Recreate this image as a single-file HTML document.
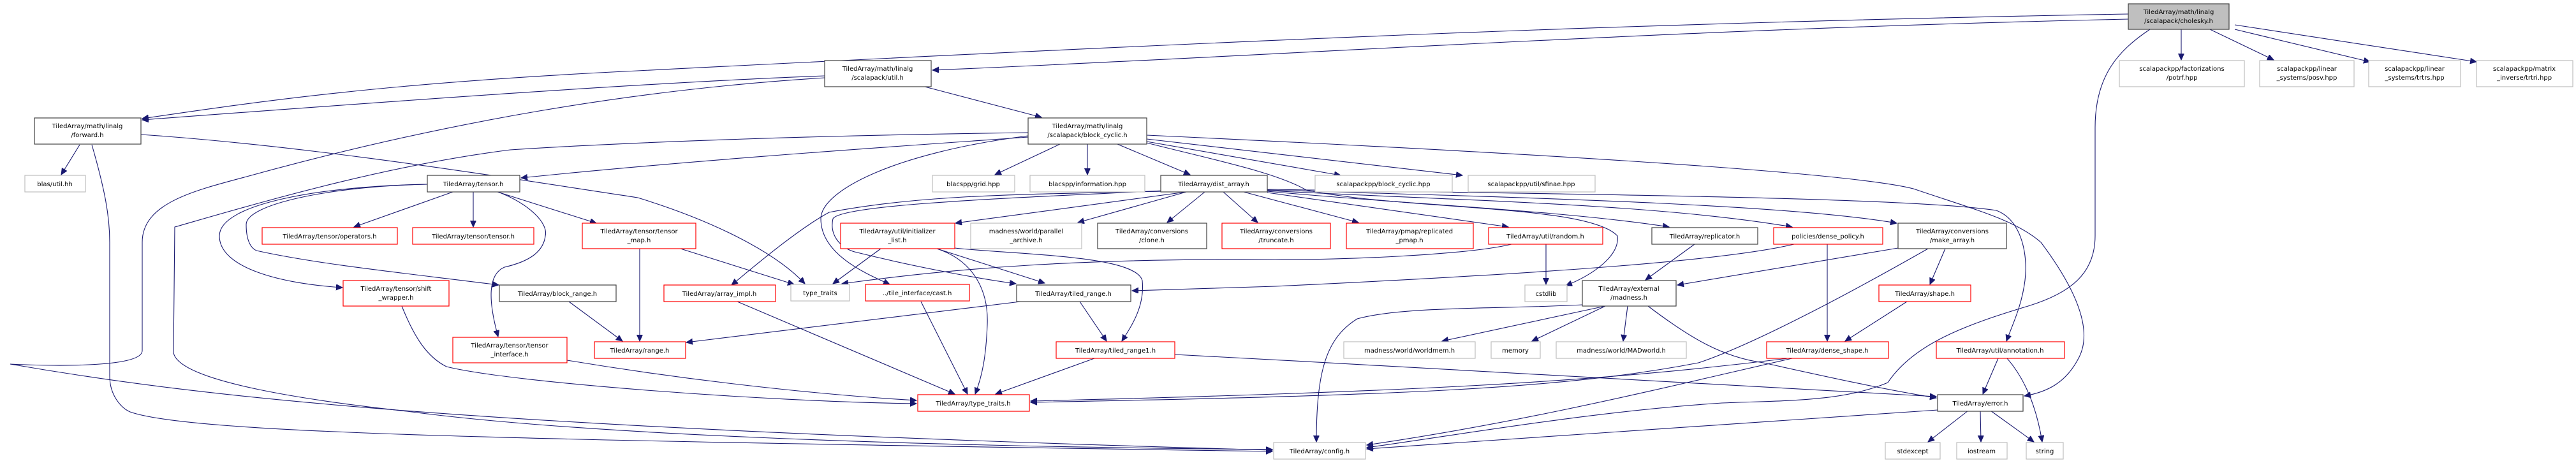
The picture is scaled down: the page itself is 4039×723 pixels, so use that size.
<!DOCTYPE html>
<html><head><meta charset="utf-8">
<style>
html,body{margin:0;padding:0;background:#fff;}
svg{display:block;}
text{font-family:"DejaVu Sans","Liberation Sans",sans-serif;font-size:10px;fill:#000;text-anchor:middle;}
.e{fill:none;stroke:#191970;stroke-width:1.1;marker-end:url(#a);}
.n{fill:#fff;stroke-width:1.2;}
.k{stroke:#404040;} .g{stroke:#bfbfbf;} .r{stroke:#ff0000;}
</style></head><body>
<svg width="4039" height="723" viewBox="0 0 4039 723" xmlns="http://www.w3.org/2000/svg">
<defs>
<marker id="a" markerUnits="userSpaceOnUse" markerWidth="12" markerHeight="10" refX="10" refY="4.5" orient="auto">
<path d="M0,0 L10,4.5 L0,9 Z" fill="#191970" stroke="#191970"/>
</marker>
</defs>

<!-- EDGES -->
<!-- cholesky -->
<path class="e" d="M3337,22 C2600,35 2000,60 1000,111 C600,130 400,160 223,186"/>
<path class="e" d="M3337,30 C2600,46 2000,88 1462,110"/>
<path class="e" d="M3420,46 L3420,94"/>
<path class="e" d="M3465,46 L3565,94"/>
<path class="e" d="M3504,46 L3716,97"/>
<path class="e" d="M3504,39 L3883,97"/>
<path class="e" d="M3371,46 C3320,80 3285,120 3285,200 L3285,370 C3285,430 3245,460 3180,480 C3080,510 3000,540 2960,600 C2890,630 2800,628 2700,632 C2500,645 2300,680 2143,702"/>
<!-- util.h -->
<path class="e" d="M1293,119 C1000,130 600,160 223,188"/>
<path class="e" d="M1293,122 C1000,140 700,190 383,278 C300,300 223,320 223,380 L223,550 C223,575 100,575 16,571 C300,620 700,670 1995,706"/>
<path class="e" d="M1450,136 L1633,184"/>
<!-- forward -->
<path class="e" d="M125,227 L96,274"/>
<path class="e" d="M144,227 C165,300 172,340 172,380 L172,590 C172,620 190,640 204,646 C300,680 800,690 1995,708"/>
<path class="e" d="M221,211 C500,230 800,280 1000,310 C1130,350 1220,400 1262,445"/>
<!-- block_cyclic -->
<path class="e" d="M1612,215 C1400,230 1100,250 817,279"/>
<path class="e" d="M1612,208 C1300,212 1000,222 800,235 C600,260 400,320 274,356 L272,553 C280,600 500,630 638,645 C900,680 1400,700 1995,705"/>
<path class="e" d="M1612,213 C1400,240 1287,300 1287,343 C1287,400 1360,430 1395,446"/>
<path class="e" d="M1662,226 L1560,274"/>
<path class="e" d="M1705,226 L1705,274"/>
<path class="e" d="M1752,226 L1866,274"/>
<path class="e" d="M1798,222 L2102,275"/>
<path class="e" d="M1798,218 L2293,275"/>
<path class="e" d="M1798,212 C2400,240 2900,270 3000,296 C3100,330 3160,345 3200,380 C3260,460 3280,520 3260,560 C3240,600 3210,615 3174,621"/>
<path class="e" d="M1798,224 C1900,250 2000,270 2048,298 C2200,330 2490,320 2536,370 C2540,400 2500,430 2455,448"/>
<!-- tensor.h -->
<path class="e" d="M710,301 L555,356"/>
<path class="e" d="M742,301 L742,356"/>
<path class="e" d="M780,301 L935,350"/>
<path class="e" d="M781,301 C830,320 860,350 855,370 C852,395 830,410 791,419 C765,430 765,470 781,528"/>
<path class="e" d="M670,289 C500,292 344,320 344,370 C344,420 440,445 537,451"/>
<path class="e" d="M670,289 C520,292 386,320 386,352 C386,380 395,390 402,393 C500,415 650,430 782,447"/>
<!-- tensor_map -->
<path class="e" d="M1067,390 L1245,446"/>
<path class="e" d="M1003,390 L1003,535"/>
<path class="e" d="M892,473 L976,535"/>
<!-- dist_array -->
<path class="e" d="M1860,301 L1498,350"/>
<path class="e" d="M1860,301 L1690,349"/>
<path class="e" d="M1889,301 L1830,349"/>
<path class="e" d="M1918,301 L1972,349"/>
<path class="e" d="M1950,301 L2130,349"/>
<path class="e" d="M1987,302 L2365,356"/>
<path class="e" d="M1987,300 C2200,320 2450,330 2617,356"/>
<path class="e" d="M1987,299 C2300,315 2600,320 2810,356"/>
<path class="e" d="M1987,298 C2400,310 2800,320 2974,350"/>
<path class="e" d="M1987,297 C2500,305 3000,310 3130,330 C3170,345 3180,400 3175,440 C3170,480 3155,510 3146,535"/>
<path class="e" d="M1823,300 C1600,305 1446,305 1300,333 C1250,360 1180,420 1147,447"/>
<path class="e" d="M1823,299 C1600,310 1320,320 1306,343 C1300,370 1319,389 1340,395 C1420,415 1520,435 1593,445"/>
<!-- init list -->
<path class="e" d="M1381,390 L1306,445"/>
<path class="e" d="M1469,390 L1638,444"/>
<path class="e" d="M1497,389 C1600,400 1780,400 1791,440 C1795,480 1775,510 1759,535"/>
<path class="e" d="M1469,390 C1530,410 1550,460 1548,509 C1546,560 1540,590 1529,618"/>
<!-- row 3 to type_traits.h -->
<path class="e" d="M1156,473 L1497,618"/>
<path class="e" d="M1444,473 L1517,618"/>
<path class="e" d="M1716,562 L1561,618"/>
<path class="e" d="M889,565 C1100,600 1300,620 1437,628"/>
<path class="e" d="M630,480 C650,530 670,560 700,575 C800,600 1200,630 1437,633"/>
<path class="e" d="M1600,473 L1076,537"/>
<path class="e" d="M1693,473 L1735,535"/>
<path class="e" d="M1842,556 C2300,580 2800,610 3036,622"/>
<!-- random -->
<path class="e" d="M2424,383 L2424,446"/>
<path class="e" d="M2370,383 C2300,400 2100,408 2000,407 C1700,405 1500,420 1320,445"/>
<!-- replicator / make_array / policy -->
<path class="e" d="M2657,383 L2580,439"/>
<path class="e" d="M2976,389 L2630,447"/>
<path class="e" d="M3050,390 L3026,446"/>
<path class="e" d="M3023,390 C2900,460 2750,540 2663,569 C2450,610 2200,620 1616,631"/>
<path class="e" d="M2813,383 C2700,410 2400,430 2000,449 C1900,452 1830,454 1775,456"/>
<path class="e" d="M2865,383 L2865,535"/>
<path class="e" d="M2990,473 L2893,535"/>
<!-- dense_shape -->
<path class="e" d="M2803,562 C2500,600 2200,615 1616,629"/>
<path class="e" d="M2810,562 C2600,610 2400,660 2143,698"/>
<!-- madness -->
<path class="e" d="M2481,478 C2350,485 2200,480 2128,500 C2080,530 2064,580 2064,693"/>
<path class="e" d="M2517,480 L2261,535"/>
<path class="e" d="M2517,480 L2402,535"/>
<path class="e" d="M2552,480 L2545,535"/>
<path class="e" d="M2584,480 C2650,530 2700,560 2765,569 C2860,590 2950,610 3036,624"/>
<!-- annotation / error -->
<path class="e" d="M3133,562 L3109,618"/>
<path class="e" d="M3147,562 C3180,600 3195,650 3202,693"/>
<path class="e" d="M3086,644 L3023,693"/>
<path class="e" d="M3105,644 L3106,693"/>
<path class="e" d="M3121,644 L3189,693"/>
<path class="e" d="M3038,643 L2143,704"/>

<!-- NODES -->
<g>
<rect class="n k" x="3337" y="6" width="158" height="40" style="fill:#bfbfbf"/><text x="3416" y="22">TiledArray/math/linalg</text><text x="3416" y="36">/scalapack/cholesky.h</text>
<rect class="n k" x="54" y="185" width="167" height="41"/><text x="137" y="201">TiledArray/math/linalg</text><text x="137" y="215">/forward.h</text>
<rect class="n k" x="1293" y="95" width="167" height="41"/><text x="1376" y="111">TiledArray/math/linalg</text><text x="1376" y="125">/scalapack/util.h</text>
<rect class="n g" x="3323" y="95" width="196" height="41"/><text x="3421" y="111">scalapackpp/factorizations</text><text x="3421" y="125">/potrf.hpp</text>
<rect class="n g" x="3543" y="95" width="148" height="41"/><text x="3617" y="111">scalapackpp/linear</text><text x="3617" y="125">_systems/posv.hpp</text>
<rect class="n g" x="3714" y="95" width="144" height="41"/><text x="3786" y="111">scalapackpp/linear</text><text x="3786" y="125">_systems/trtrs.hpp</text>
<rect class="n g" x="3883" y="95" width="151" height="41"/><text x="3958" y="111">scalapackpp/matrix</text><text x="3958" y="125">_inverse/trtri.hpp</text>
<rect class="n k" x="1612" y="185" width="186" height="41"/><text x="1705" y="201">TiledArray/math/linalg</text><text x="1705" y="215">/scalapack/block_cyclic.h</text>
<rect class="n g" x="39" y="275" width="95" height="26"/><text x="86" y="292">blas/util.hh</text>
<rect class="n k" x="670" y="275" width="145" height="26"/><text x="742" y="292">TiledArray/tensor.h</text>
<rect class="n g" x="1462" y="275" width="129" height="26"/><text x="1526" y="292">blacspp/grid.hpp</text>
<rect class="n g" x="1615" y="275" width="180" height="26"/><text x="1705" y="292">blacspp/information.hpp</text>
<rect class="n k" x="1820" y="275" width="167" height="26"/><text x="1903" y="292">TiledArray/dist_array.h</text>
<rect class="n g" x="2062" y="275" width="215" height="26"/><text x="2169" y="292">scalapackpp/block_cyclic.hpp</text>
<rect class="n g" x="2302" y="275" width="199" height="26"/><text x="2401" y="292">scalapackpp/util/sfinae.hpp</text>
<rect class="n r" x="411" y="357" width="212" height="26"/><text x="517" y="374">TiledArray/tensor/operators.h</text>
<rect class="n r" x="647" y="357" width="190" height="26"/><text x="742" y="374">TiledArray/tensor/tensor.h</text>
<rect class="n r" x="913" y="350" width="178" height="40"/><text x="1002" y="366">TiledArray/tensor/tensor</text><text x="1002" y="380">_map.h</text>
<rect class="n r" x="1318" y="350" width="179" height="40"/><text x="1407" y="366">TiledArray/util/initializer</text><text x="1407" y="380">_list.h</text>
<rect class="n g" x="1522" y="350" width="174" height="40"/><text x="1609" y="366">madness/world/parallel</text><text x="1609" y="380">_archive.h</text>
<rect class="n k" x="1721" y="350" width="171" height="40"/><text x="1806" y="366">TiledArray/conversions</text><text x="1806" y="380">/clone.h</text>
<rect class="n r" x="1916" y="350" width="170" height="40"/><text x="2001" y="366">TiledArray/conversions</text><text x="2001" y="380">/truncate.h</text>
<rect class="n r" x="2111" y="350" width="199" height="40"/><text x="2210" y="366">TiledArray/pmap/replicated</text><text x="2210" y="380">_pmap.h</text>
<rect class="n r" x="2334" y="357" width="179" height="26"/><text x="2423" y="374">TiledArray/util/random.h</text>
<rect class="n k" x="2590" y="357" width="166" height="26"/><text x="2673" y="374">TiledArray/replicator.h</text>
<rect class="n r" x="2781" y="357" width="171" height="26"/><text x="2866" y="374">policies/dense_policy.h</text>
<rect class="n k" x="2976" y="350" width="170" height="40"/><text x="3061" y="366">TiledArray/conversions</text><text x="3061" y="380">/make_array.h</text>
<rect class="n r" x="538" y="440" width="166" height="40"/><text x="621" y="456">TiledArray/tensor/shift</text><text x="621" y="470">_wrapper.h</text>
<rect class="n k" x="783" y="447" width="183" height="26"/><text x="874" y="464">TiledArray/block_range.h</text>
<rect class="n r" x="1041" y="447" width="175" height="26"/><text x="1128" y="464">TiledArray/array_impl.h</text>
<rect class="n g" x="1240" y="446" width="92" height="26"/><text x="1286" y="463">type_traits</text>
<rect class="n r" x="1357" y="446" width="163" height="26"/><text x="1438" y="463">../tile_interface/cast.h</text>
<rect class="n k" x="1594" y="447" width="179" height="26"/><text x="1683" y="464">TiledArray/tiled_range.h</text>
<rect class="n g" x="2391" y="447" width="66" height="26"/><text x="2424" y="464">cstdlib</text>
<rect class="n k" x="2481" y="440" width="147" height="40"/><text x="2554" y="456">TiledArray/external</text><text x="2554" y="470">/madness.h</text>
<rect class="n r" x="2946" y="447" width="144" height="26"/><text x="3018" y="464">TiledArray/shape.h</text>
<rect class="n r" x="710" y="529" width="179" height="40"/><text x="799" y="545">TiledArray/tensor/tensor</text><text x="799" y="559">_interface.h</text>
<rect class="n r" x="932" y="536" width="143" height="26"/><text x="1003" y="553">TiledArray/range.h</text>
<rect class="n r" x="1656" y="536" width="186" height="26"/><text x="1749" y="553">TiledArray/tiled_range1.h</text>
<rect class="n g" x="2107" y="536" width="206" height="26"/><text x="2210" y="553">madness/world/worldmem.h</text>
<rect class="n g" x="2338" y="536" width="77" height="26"/><text x="2376" y="553">memory</text>
<rect class="n g" x="2440" y="536" width="204" height="26"/><text x="2542" y="553">madness/world/MADworld.h</text>
<rect class="n r" x="2770" y="536" width="191" height="26"/><text x="2865" y="553">TiledArray/dense_shape.h</text>
<rect class="n r" x="3036" y="536" width="201" height="26"/><text x="3136" y="553">TiledArray/util/annotation.h</text>
<rect class="n r" x="1439" y="619" width="175" height="26"/><text x="1526" y="636">TiledArray/type_traits.h</text>
<rect class="n k" x="3038" y="619" width="134" height="26"/><text x="3105" y="636">TiledArray/error.h</text>
<rect class="n g" x="1997" y="694" width="144" height="26"/><text x="2069" y="711">TiledArray/config.h</text>
<rect class="n g" x="2956" y="694" width="86" height="26"/><text x="2999" y="711">stdexcept</text>
<rect class="n g" x="3068" y="694" width="79" height="26"/><text x="3107" y="711">iostream</text>
<rect class="n g" x="3177" y="694" width="58" height="26"/><text x="3206" y="711">string</text>
</g>
</svg>
</body></html>
